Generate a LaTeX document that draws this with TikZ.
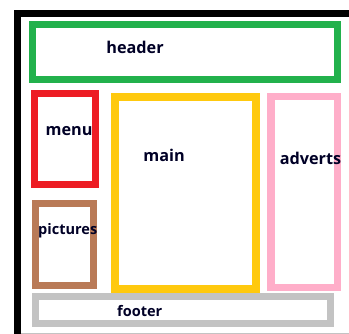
\documentclass[tikz,border=0pt]{standalone}
\usepackage{fontspec}
\setmainfont{Open Sans}
\definecolor{paintgreen}{RGB}{34,177,76}
\definecolor{paintred}{RGB}{237,28,36}
\definecolor{paintyellow}{RGB}{255,201,14}
\definecolor{paintpink}{RGB}{255,174,201}
\definecolor{paintbrown}{RGB}{185,122,87}
\definecolor{paintgray}{RGB}{195,195,195}
\tikzset{
	box/.style={draw=#1, line width=7bp, inner sep=0pt, outer sep=0pt},
	lbl/.style={anchor=base, inner sep=0pt, text=black!85!blue, font=\fontsize{16.3}{19}\selectfont\bfseries},
	smalllbl/.style={lbl, font=\fontsize{14.6}{17}\selectfont\bfseries}
}
\begin{document}
\begin{tikzpicture}[x=1bp, y=-1bp]
		\useasboundingbox (0,0) rectangle (349,334);
		%draw page frame
		\draw [black, line width=7bp] (352,13.8) -- (17.5,13.8) -- (17.5,338);
		\draw [paintgray, line width=0.8bp] (21,333) -- (349,333);
		%draw boxes
		\node[box=paintgreen, minimum width=304.5bp, minimum height=54.5bp] (header) at (184.75,51.75) {};
		\node[box=paintred, line width=7.5bp, minimum width=61bp, minimum height=91.4bp] (menu) at (65,139) {};
		\node[box=paintyellow, line width=8bp, minimum width=140.5bp, minimum height=192.2bp] (main) at (185.25,192.6) {};
		\node[box=paintpink, minimum width=66bp, minimum height=190.7bp] (adverts) at (304,191.65) {};
		\node[box=paintbrown, minimum width=58bp, minimum height=82.7bp] (pictures) at (64.7,244.35) {};
		\node[box=paintgray, minimum width=294.6bp, minimum height=27.4bp] (footer) at (183,310) {};
		%draw labels
		\node[lbl] (headertext) at (135,53) {header};
		\node[lbl] (menutext) at (69,135) {menu};
		\node[lbl] (maintext) at (164,161.5) {main};
		\node[lbl] (advertstext) at (310.5,164) {adverts};
		\node[smalllbl] (picturestext) at (67.7,234) {pictures};
		\node[smalllbl] (footertext) at (139.7,316) {footer};
		
	\end{tikzpicture}
\end{document}
